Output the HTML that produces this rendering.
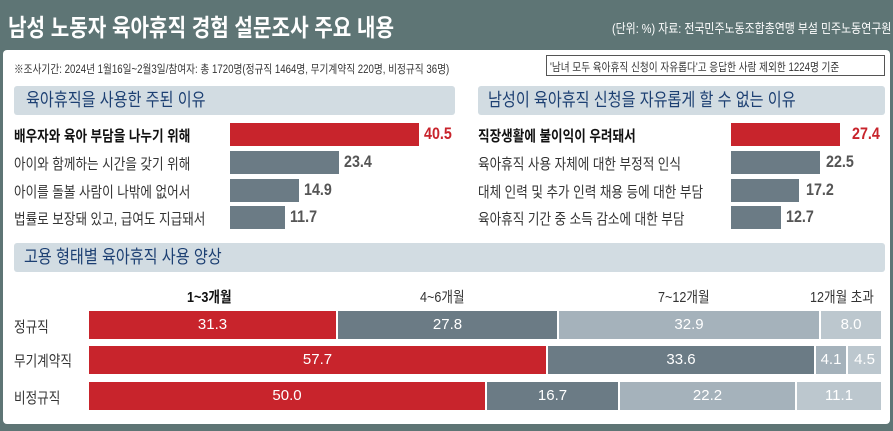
<!DOCTYPE html>
<html><head><meta charset="utf-8"><style>
*{margin:0;padding:0;box-sizing:border-box}
body{width:893px;height:431px;overflow:hidden;background:#5e7575;font-family:"Liberation Sans","Noto Sans CJK KR",sans-serif;position:relative}
.a{position:absolute;white-space:nowrap;transform-origin:left top}
.c{transform:scaleX(0.84)}
.panel{position:absolute;left:3px;top:50px;width:887px;height:374px;background:#fff;border-radius:4px}
.band{position:absolute;background:#d2dce2;border-radius:3px}
.bt{color:#1c3f72;font-size:18px;line-height:29px}
.lbl{font-size:15px;color:#333}
.bar{position:absolute;height:23px}
.red{background:#c8242c}.dk{background:#6b7b85}.lt{background:#a5b2bb}.lt2{background:#bcc7ce}
.val{font-size:17px;color:#555;font-weight:bold}
.seg{position:absolute;height:28px;color:#fff;font-size:15px;text-align:center;line-height:28px;border-right:2px solid #fff}
</style></head><body>
<div class="a c" style="left:8px;top:8px;font-size:24px;font-weight:bold;color:#fff">남성 노동자 육아휴직 경험 설문조사 주요 내용</div>
<div class="a c" style="left:612px;top:18px;font-size:13px;color:#fff">(단위: %) 자료: 전국민주노동조합총연맹 부설 민주노동연구원</div>
<div class="panel"></div>
<div class="a c" style="left:14px;top:61px;font-size:11.5px;color:#333">※조사기간: 2024년 1월16일~2월3일/참여자: 총 1720명(정규직 1464명, 무기계약직 220명, 비정규직 36명)</div>
<div class="a" style="left:546px;top:55px;width:339px;height:21px;border:1px solid #555;background:#fff"></div>
<div class="a c" style="left:550px;top:59px;font-size:11.5px;color:#333">'남녀 모두 육아휴직 신청이 자유롭다'고 응답한 사람 제외한 1224명 기준</div>
<div class="band" style="left:14px;top:86px;width:441px;height:29px"></div>
<div class="a c bt" style="left:26px;top:86px">육아휴직을 사용한 주된 이유</div>
<div class="band" style="left:478px;top:86px;width:407px;height:29px"></div>
<div class="a c bt" style="left:488px;top:86px">남성이 육아휴직 신청을 자유롭게 할 수 없는 이유</div>

<div class="a c lbl" style="left:14px;top:125px;font-weight:bold;color:#111">배우자와 육아 부담을 나누기 위해</div>
<div class="bar red" style="left:230px;top:123px;width:189px"></div><div class="a c val" style="left:424px;top:124px;color:#c8242c">40.5</div>
<div class="a c lbl" style="left:14px;top:153px">아이와 함께하는 시간을 갖기 위해</div>
<div class="bar dk" style="left:230px;top:151px;width:109px"></div><div class="a c val" style="left:344px;top:152px">23.4</div>
<div class="a c lbl" style="left:14px;top:181px">아이를 돌볼 사람이 나밖에 없어서</div>
<div class="bar dk" style="left:230px;top:179px;width:69px"></div><div class="a c val" style="left:304px;top:180px">14.9</div>
<div class="a c lbl" style="left:14px;top:208px">법률로 보장돼 있고, 급여도 지급돼서</div>
<div class="bar dk" style="left:230px;top:206px;width:55px"></div><div class="a c val" style="left:290px;top:207px">11.7</div>

<div class="a c lbl" style="left:478px;top:125px;font-weight:bold;color:#111">직장생활에 불이익이 우려돼서</div>
<div class="bar red" style="left:731px;top:123px;width:109px"></div><div class="a c val" style="left:852px;top:124px;color:#c8242c">27.4</div>
<div class="a c lbl" style="left:478px;top:153px">육아휴직 사용 자체에 대한 부정적 인식</div>
<div class="bar dk" style="left:731px;top:151px;width:89px"></div><div class="a c val" style="left:826px;top:152px">22.5</div>
<div class="a c lbl" style="left:478px;top:181px">대체 인력 및 추가 인력 채용 등에 대한 부담</div>
<div class="bar dk" style="left:731px;top:179px;width:68px"></div><div class="a c val" style="left:806px;top:180px">17.2</div>
<div class="a c lbl" style="left:478px;top:208px">육아휴직 기간 중 소득 감소에 대한 부담</div>
<div class="bar dk" style="left:731px;top:206px;width:50px"></div><div class="a c val" style="left:786px;top:207px">12.7</div>

<div class="band" style="left:14px;top:243px;width:871px;height:29px"></div>
<div class="a c bt" style="left:24px;top:243px">고용 형태별 육아휴직 사용 양상</div>
<div class="a c lbl" style="left:187px;top:286px;font-weight:bold;color:#111">1~3개월</div>
<div class="a c lbl" style="left:420px;top:286px">4~6개월</div>
<div class="a c lbl" style="left:658px;top:286px">7~12개월</div>
<div class="a c lbl" style="left:810px;top:286px">12개월 초과</div>
<div class="a c lbl" style="left:14px;top:316px">정규직</div>
<div class="a c lbl" style="left:14px;top:350px">무기계약직</div>
<div class="a c lbl" style="left:14px;top:387px">비정규직</div>
<div class="seg red" style="left:89px;top:311px;width:249px">31.3</div>
<div class="seg dk" style="left:338px;top:311px;width:221px">27.8</div>
<div class="seg lt" style="left:559px;top:311px;width:262px">32.9</div>
<div class="seg lt2" style="left:821px;top:311px;width:60px;border:none">8.0</div>
<div class="seg red" style="left:89px;top:346px;width:459px">57.7</div>
<div class="seg dk" style="left:548px;top:346px;width:268px">33.6</div>
<div class="seg lt" style="left:816px;top:346px;width:32px">4.1</div>
<div class="seg lt2" style="left:848px;top:346px;width:33px;border:none">4.5</div>
<div class="seg red" style="left:89px;top:382px;width:398px">50.0</div>
<div class="seg dk" style="left:487px;top:382px;width:133px">16.7</div>
<div class="seg lt" style="left:620px;top:382px;width:177px">22.2</div>
<div class="seg lt2" style="left:797px;top:382px;width:84px;border:none">11.1</div>
</body></html>
